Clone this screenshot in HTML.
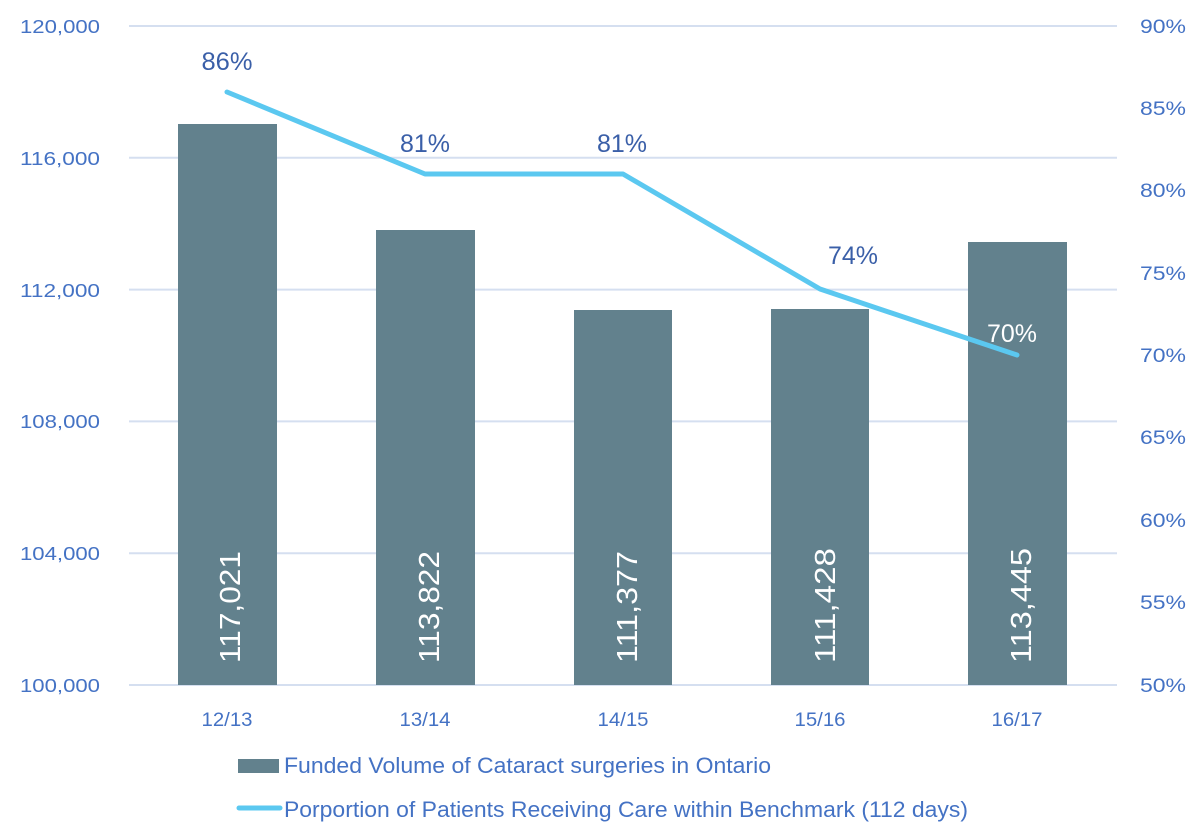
<!DOCTYPE html>
<html>
<head>
<meta charset="utf-8">
<style>
  html,body{margin:0;padding:0;background:#fff;}
  svg{display:block;}
  text{font-family:"Liberation Sans",sans-serif;}
</style>
</head>
<body>
<svg width="1199" height="839" viewBox="0 0 1199 839" xmlns="http://www.w3.org/2000/svg">
  <rect width="1199" height="839" fill="#fff"/>
  <!-- gridlines -->
  <g stroke="#D5DFF0" stroke-width="2">
    <line x1="129" y1="26" x2="1117" y2="26"/>
    <line x1="129" y1="157.8" x2="1117" y2="157.8"/>
    <line x1="129" y1="289.6" x2="1117" y2="289.6"/>
    <line x1="129" y1="421.4" x2="1117" y2="421.4"/>
    <line x1="129" y1="553.2" x2="1117" y2="553.2"/>
    <line x1="129" y1="685" x2="1117" y2="685"/>
  </g>
  <!-- left axis labels -->
  <g fill="#4472C4" font-size="18" text-anchor="end">
    <text x="100" y="33" textLength="80" lengthAdjust="spacingAndGlyphs">120,000</text>
    <text x="100" y="165" textLength="80" lengthAdjust="spacingAndGlyphs">116,000</text>
    <text x="100" y="297" textLength="80" lengthAdjust="spacingAndGlyphs">112,000</text>
    <text x="100" y="428" textLength="80" lengthAdjust="spacingAndGlyphs">108,000</text>
    <text x="100" y="560" textLength="80" lengthAdjust="spacingAndGlyphs">104,000</text>
    <text x="100" y="692" textLength="80" lengthAdjust="spacingAndGlyphs">100,000</text>
  </g>
  <!-- right axis labels -->
  <g fill="#4472C4" font-size="19">
    <text x="1140" y="33" textLength="46" lengthAdjust="spacingAndGlyphs">90%</text>
    <text x="1140" y="115" textLength="46" lengthAdjust="spacingAndGlyphs">85%</text>
    <text x="1140" y="197" textLength="46" lengthAdjust="spacingAndGlyphs">80%</text>
    <text x="1140" y="280" textLength="46" lengthAdjust="spacingAndGlyphs">75%</text>
    <text x="1140" y="362" textLength="46" lengthAdjust="spacingAndGlyphs">70%</text>
    <text x="1140" y="444" textLength="46" lengthAdjust="spacingAndGlyphs">65%</text>
    <text x="1140" y="527" textLength="46" lengthAdjust="spacingAndGlyphs">60%</text>
    <text x="1140" y="609" textLength="46" lengthAdjust="spacingAndGlyphs">55%</text>
    <text x="1140" y="692" textLength="46" lengthAdjust="spacingAndGlyphs">50%</text>
  </g>
  <!-- bars -->
  <g fill="#62818D">
    <rect x="178" y="124" width="99" height="561"/>
    <rect x="376" y="230" width="99" height="455"/>
    <rect x="574" y="310" width="98" height="375"/>
    <rect x="771" y="309" width="98" height="376"/>
    <rect x="968" y="242" width="99" height="443"/>
  </g>
  <!-- bar labels -->
  <g fill="#fff" font-size="29">
    <text transform="translate(240,663) rotate(-90)" textLength="112" lengthAdjust="spacingAndGlyphs">117,021</text>
    <text transform="translate(439,663) rotate(-90)" textLength="112" lengthAdjust="spacingAndGlyphs">113,822</text>
    <text transform="translate(637,663) rotate(-90)" textLength="112" lengthAdjust="spacingAndGlyphs">111,377</text>
    <text transform="translate(835,663) rotate(-90)" textLength="115" lengthAdjust="spacingAndGlyphs">111,428</text>
    <text transform="translate(1031,663) rotate(-90)" textLength="115" lengthAdjust="spacingAndGlyphs">113,445</text>
  </g>
  <!-- line -->
  <polyline points="227,92 425,174 623,174 820,289 1017,355" fill="none" stroke="#5BC8F0" stroke-width="5" stroke-linejoin="round" stroke-linecap="round"/>
  <!-- line labels -->
  <g fill="#3A5FA8" font-size="25" text-anchor="middle">
    <text x="227" y="70" textLength="51" lengthAdjust="spacingAndGlyphs">86%</text>
    <text x="425" y="152" textLength="50" lengthAdjust="spacingAndGlyphs">81%</text>
    <text x="622" y="152" textLength="50" lengthAdjust="spacingAndGlyphs">81%</text>
    <text x="853" y="264" textLength="50" lengthAdjust="spacingAndGlyphs">74%</text>
  </g>
  <text x="1012" y="342" fill="#ffffff" font-size="25" text-anchor="middle" textLength="50" lengthAdjust="spacingAndGlyphs">70%</text>
  <!-- x labels -->
  <g fill="#4472C4" font-size="19" text-anchor="middle">
    <text x="227" y="726" textLength="51" lengthAdjust="spacingAndGlyphs">12/13</text>
    <text x="425" y="726" textLength="51" lengthAdjust="spacingAndGlyphs">13/14</text>
    <text x="623" y="726" textLength="51" lengthAdjust="spacingAndGlyphs">14/15</text>
    <text x="820" y="726" textLength="51" lengthAdjust="spacingAndGlyphs">15/16</text>
    <text x="1017" y="726" textLength="51" lengthAdjust="spacingAndGlyphs">16/17</text>
  </g>
  <!-- legend -->
  <rect x="238" y="759" width="41" height="14" fill="#62818D"/>
  <text x="284" y="773" fill="#4472C4" font-size="22" textLength="487" lengthAdjust="spacingAndGlyphs">Funded Volume of Cataract surgeries in Ontario</text>
  <line x1="239" y1="808" x2="280" y2="808" stroke="#5BC8F0" stroke-width="5" stroke-linecap="round"/>
  <text x="284" y="817" fill="#4472C4" font-size="22" textLength="684" lengthAdjust="spacingAndGlyphs">Porportion of Patients Receiving Care within Benchmark (112 days)</text>
</svg>
</body>
</html>
